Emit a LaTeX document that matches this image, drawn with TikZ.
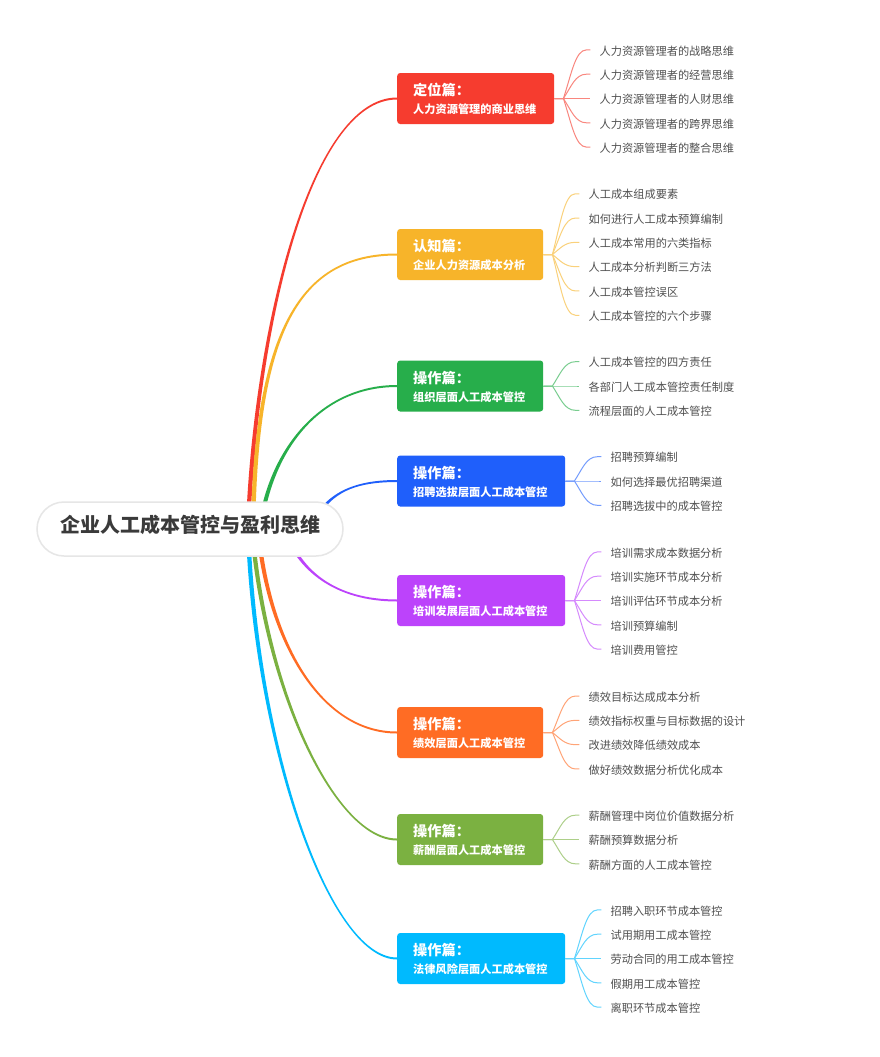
\documentclass[tikz,border=0pt]{standalone}
\usepackage{fontspec}
\setmainfont{Noto Sans CJK SC}
\usetikzlibrary{calc}
\definecolor{cR}{HTML}{F63C2F}
\definecolor{cY}{HTML}{F7B42A}
\definecolor{cG}{HTML}{27AE4B}
\definecolor{cB}{HTML}{1F5FFB}
\definecolor{cP}{HTML}{BC43FB}
\definecolor{cO}{HTML}{FF6C24}
\definecolor{cL}{HTML}{7BB141}
\definecolor{cC}{HTML}{00BAFE}
\definecolor{leafgray}{HTML}{505050}
\definecolor{rootgray}{HTML}{3A3A3A}
\definecolor{rootborder}{HTML}{E6E6E6}
% child connector: #1 parent box, #2 leaf node, #3 colour
\newcommand\twig[3]{%
  \draw[twigline=#3] let \p1=($(#1.east)+(9,0)$), \p2=($(#2.west)+(-9,0)$) in
    (#1.east) -- (\p1) .. controls (\x1+8pt,{\y1+0.5*(\y2-\y1)}) and (\x1+12pt,\y2) .. (\x2-4pt,\y2) -- (\p2);}
% tapered main connector: #1 colour, #2 start coord, #3 first control coord, #4 second control x, #5 box, #6 +1 up / -1 down
\newcommand\trunk[6]{%
  \fill[#1] let \p0=(#2), \p1=(#3), \p3=(#5.west) in
    (\x0-2.2pt,\y0) .. controls (\x1-2pt,\y1) and (#4pt,{\y3+#6*1pt}) .. (\x3,{\y3+#6*1pt})
    -- (\x3,{\y3-#6*1pt}) .. controls (#4pt,{\y3-#6*1pt}) and (\x1+2pt,\y1) .. (\x0+2.2pt,\y0) -- cycle;}
\begin{document}
\begin{tikzpicture}[x=1pt,y=-1pt,
  bbox/.style={rounded corners=3pt, minimum height=51pt, inner sep=0pt, anchor=west, fill=#1},
  ttl/.style={anchor=west, inner sep=0pt, text=white, font=\fontsize{14.2}{16}\selectfont\bfseries, text height=0.8em, text depth=0.04em},
  sub/.style={anchor=west, inner sep=0pt, text=white, font=\fontsize{11.2}{13}\selectfont\bfseries, text height=0.8em, text depth=0.04em},
  leaf/.style={anchor=west, inner sep=0pt, text=leafgray, font=\fontsize{11.2}{13}\selectfont, text height=1.06em, text depth=0.02em},
  twigline/.style={draw=#1!62!white, line width=1pt},
  rootbox/.style={draw=rootborder, line width=1.5pt, fill=white, rounded corners=27pt, minimum width=306pt, minimum height=54pt, inner sep=0pt, text=rootgray, font=\fontsize{20}{24}\selectfont\bfseries, text height=0.8em, text depth=0.04em},
]
\useasboundingbox[fill=white] (0,0) rectangle (879,1057);

% ---------- branch 1
\node[bbox=cR, minimum width=157pt] (b1) at (397,98.5) {};
\node[ttl] (b1t) at ($(b1.north west)+(16,19)$) {定位篇：};
\node[sub] (b1s) at ($(b1.north west)+(16,37)$) {人力资源管理的商业思维};
\foreach \txt [count=\i] in {人力资源管理者的战略思维,人力资源管理者的经营思维,人力资源管理者的人财思维,人力资源管理者的跨界思维,人力资源管理者的整合思维}{
  \node[leaf] (b1l\i) at ($(b1.east)+(45,{(\i-3)*24.3})$) {\txt};
  \twig{b1}{b1l\i}{cR}}

% ---------- branch 2
\node[bbox=cY, minimum width=146pt] (b2) at (397,254.5) {};
\node[ttl] (b2t) at ($(b2.north west)+(16,19)$) {认知篇：};
\node[sub] (b2s) at ($(b2.north west)+(16,37)$) {企业人力资源成本分析};
\foreach \txt [count=\i] in {人工成本组成要素,如何进行人工成本预算编制,人工成本常用的六类指标,人工成本分析判断三方法,人工成本管控误区,人工成本管控的六个步骤}{
  \node[leaf] (b2l\i) at ($(b2.east)+(45,{(\i-3.5)*24.3})$) {\txt};
  \twig{b2}{b2l\i}{cY}}

% ---------- branch 3
\node[bbox=cG, minimum width=146pt] (b3) at (397,386) {};
\node[ttl] (b3t) at ($(b3.north west)+(16,19)$) {操作篇：};
\node[sub] (b3s) at ($(b3.north west)+(16,37)$) {组织层面人工成本管控};
\foreach \txt [count=\i] in {人工成本管控的四方责任,各部门人工成本管控责任制度,流程层面的人工成本管控}{
  \node[leaf] (b3l\i) at ($(b3.east)+(45,{(\i-2)*24.3})$) {\txt};
  \twig{b3}{b3l\i}{cG}}

% ---------- branch 4
\node[bbox=cB, minimum width=168pt] (b4) at (397,481) {};
\node[ttl] (b4t) at ($(b4.north west)+(16,19)$) {操作篇：};
\node[sub] (b4s) at ($(b4.north west)+(16,37)$) {招聘选拔层面人工成本管控};
\foreach \txt [count=\i] in {招聘预算编制,如何选择最优招聘渠道,招聘选拔中的成本管控}{
  \node[leaf] (b4l\i) at ($(b4.east)+(45,{(\i-2)*24.3})$) {\txt};
  \twig{b4}{b4l\i}{cB}}

% ---------- branch 5
\node[bbox=cP, minimum width=168pt] (b5) at (397,600.5) {};
\node[ttl] (b5t) at ($(b5.north west)+(16,19)$) {操作篇：};
\node[sub] (b5s) at ($(b5.north west)+(16,37)$) {培训发展层面人工成本管控};
\foreach \txt [count=\i] in {培训需求成本数据分析,培训实施环节成本分析,培训评估环节成本分析,培训预算编制,培训费用管控}{
  \node[leaf] (b5l\i) at ($(b5.east)+(45,{(\i-3)*24.3})$) {\txt};
  \twig{b5}{b5l\i}{cP}}

% ---------- branch 6
\node[bbox=cO, minimum width=146pt] (b6) at (397,732.5) {};
\node[ttl] (b6t) at ($(b6.north west)+(16,19)$) {操作篇：};
\node[sub] (b6s) at ($(b6.north west)+(16,37)$) {绩效层面人工成本管控};
\foreach \txt [count=\i] in {绩效目标达成成本分析,绩效指标权重与目标数据的设计,改进绩效降低绩效成本,做好绩效数据分析优化成本}{
  \node[leaf] (b6l\i) at ($(b6.east)+(45,{(\i-2.5)*24.3})$) {\txt};
  \twig{b6}{b6l\i}{cO}}

% ---------- branch 7
\node[bbox=cL, minimum width=146pt] (b7) at (397,839.5) {};
\node[ttl] (b7t) at ($(b7.north west)+(16,19)$) {操作篇：};
\node[sub] (b7s) at ($(b7.north west)+(16,37)$) {薪酬层面人工成本管控};
\foreach \txt [count=\i] in {薪酬管理中岗位价值数据分析,薪酬预算数据分析,薪酬方面的人工成本管控}{
  \node[leaf] (b7l\i) at ($(b7.east)+(45,{(\i-2)*24.3})$) {\txt};
  \twig{b7}{b7l\i}{cL}}

% ---------- branch 8
\node[bbox=cC, minimum width=168pt] (b8) at (397,958.5) {};
\node[ttl] (b8t) at ($(b8.north west)+(16,19)$) {操作篇：};
\node[sub] (b8s) at ($(b8.north west)+(16,37)$) {法律风险层面人工成本管控};
\foreach \txt [count=\i] in {招聘入职环节成本管控,试用期用工成本管控,劳动合同的用工成本管控,假期用工成本管控,离职环节成本管控}{
  \node[leaf] (b8l\i) at ($(b8.east)+(45,{(\i-3)*24.3})$) {\txt};
  \twig{b8}{b8l\i}{cC}}

% ---------- main connectors
\coordinate (s1) at (248,529); \coordinate (k1) at (255,330);
\coordinate (s2) at (253,529); \coordinate (k2) at (256,330);
\coordinate (s3) at (260,529); \coordinate (k3) at (270,450);
\coordinate (s4) at (310,529); \coordinate (k4) at (325,495);
\coordinate (s5) at (285,529); \coordinate (k5) at (298,570);
\coordinate (s6) at (258,529); \coordinate (k6) at (268,640);
\coordinate (s7) at (252,529); \coordinate (k7) at (265,690);
\coordinate (s8) at (248,529); \coordinate (k8) at (255,740);
\trunk{cR}{s1}{k1}{310}{b1}{1}
\trunk{cY}{s2}{k2}{300}{b2}{1}
\trunk{cG}{s3}{k3}{320}{b3}{1}
\trunk{cB}{s4}{k4}{350}{b4}{1}
\trunk{cP}{s5}{k5}{335}{b5}{-1}
\trunk{cO}{s6}{k6}{320}{b6}{-1}
\trunk{cL}{s7}{k7}{335}{b7}{-1}
\trunk{cC}{s8}{k8}{328}{b8}{-1}

% ---------- root
\node[rootbox] (root) at (190,529) {企业人工成本管控与盈利思维};
\end{tikzpicture}
\end{document}
